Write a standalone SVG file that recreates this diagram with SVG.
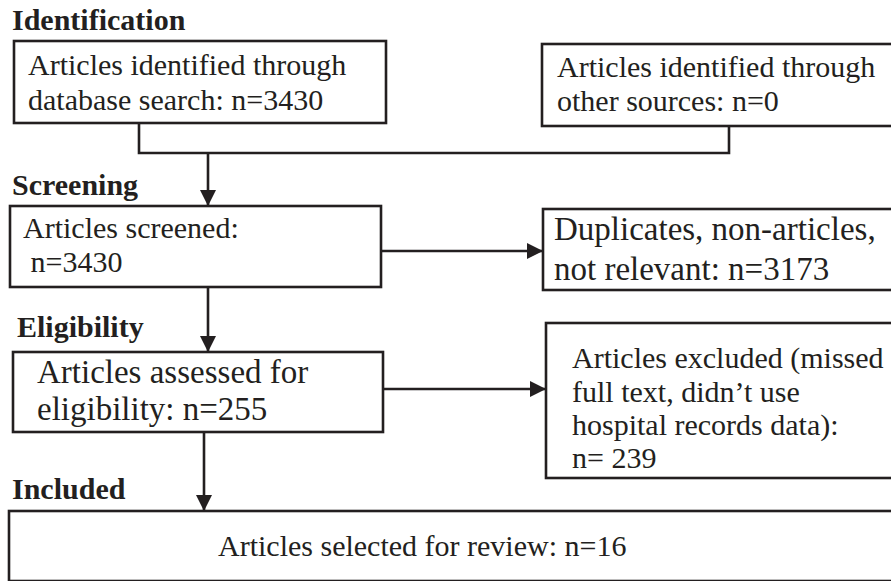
<svg xmlns="http://www.w3.org/2000/svg" width="891" height="581" viewBox="0 0 891 581">
<style>
  .box { fill: #fff; stroke: #231f20; stroke-width: 2.6; }
  .t { font-family: "Liberation Serif", "Times New Roman", serif; font-size: 30px; fill: #231f20; }
  .tl { font-family: "Liberation Serif", "Times New Roman", serif; font-size: 33px; fill: #231f20; }
  .h { font-family: "Liberation Serif", "Times New Roman", serif; font-size: 30px; font-weight: bold; fill: #231f20; }
  .c { fill: none; stroke: #231f20; stroke-width: 2.6; }
</style>
<defs>
  <marker id="arr" markerUnits="userSpaceOnUse" markerWidth="16" markerHeight="16" viewBox="0 0 16 16" refX="16" refY="8" orient="auto">
    <path d="M0,0 L16,8 L0,16 Z" fill="#231f20"/>
  </marker>
</defs>
<rect width="891" height="581" fill="#fff"/>

<g id="headers">
  <text class="h" x="12" y="30">Identification</text>
  <text class="h" x="12" y="195">Screening</text>
  <text class="h" x="17" y="337">Eligibility</text>
  <text class="h" x="12" y="499">Included</text>
</g>

<g id="connectors">
  <polyline class="c" points="139,123 139,153 729,153 729,126"/>
  <line class="c" x1="208" y1="153" x2="208" y2="206" marker-end="url(#arr)"/>
  <line class="c" x1="381" y1="251" x2="543" y2="251" marker-end="url(#arr)"/>
  <line class="c" x1="208" y1="287" x2="208" y2="352" marker-end="url(#arr)"/>
  <line class="c" x1="383" y1="389" x2="546" y2="389" marker-end="url(#arr)"/>
  <line class="c" x1="204" y1="432" x2="204" y2="511" marker-end="url(#arr)"/>
</g>

<g id="node-database">
  <rect class="box" x="14" y="41" width="372" height="82"/>
  <text class="t" x="28" y="75">Articles identified through</text>
  <text class="t" x="28" y="110">database search: n=3430</text>
</g>

<g id="node-other">
  <rect class="box" x="542" y="44" width="352" height="82"/>
  <text class="t" x="557" y="77">Articles identified through</text>
  <text class="t" x="557" y="111">other sources: n=0</text>
</g>

<g id="node-screened">
  <rect class="box" x="10" y="206" width="371" height="81"/>
  <text class="t" x="23" y="238">Articles screened:</text>
  <text class="t" x="23" y="272" xml:space="preserve"> n=3430</text>
</g>

<g id="node-duplicates">
  <rect class="box" x="543" y="209" width="351" height="81"/>
  <text class="tl" x="554" y="240">Duplicates, non-articles,</text>
  <text class="tl" x="554" y="280">not relevant: n=3173</text>
</g>

<g id="node-eligibility">
  <rect class="box" x="13" y="352" width="370" height="80"/>
  <text class="tl" x="37" y="383">Articles assessed for</text>
  <text class="tl" x="37" y="420">eligibility: n=255</text>
</g>

<g id="node-excluded">
  <rect class="box" x="546" y="323" width="348" height="155"/>
  <text class="t" x="572" y="368">Articles excluded (missed</text>
  <text class="t" x="572" y="402">full text, didn’t use</text>
  <text class="t" x="572" y="435">hospital records data):</text>
  <text class="t" x="572" y="468">n= 239</text>
</g>

<g id="node-included">
  <rect class="box" x="9" y="511" width="885" height="70"/>
  <text class="t" x="218" y="556">Articles selected for review: n=16</text>
</g>
</svg>
